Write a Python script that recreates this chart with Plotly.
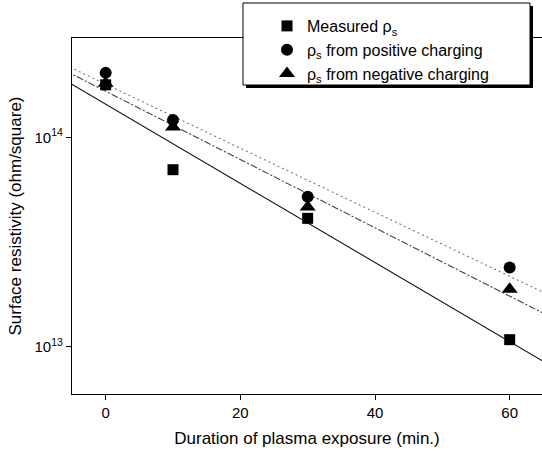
import numpy as np
import plotly.graph_objects as go

# Data
duration = [0, 10, 30, 60]
measured = [1.78e14, 7.0e13, 4.1e13, 1.08e13]
positive = [2.03e14, 1.21e14, 5.2e13, 2.39e13]
negative = [1.81e14, 1.12e14, 4.65e13, 1.88e13]

x_range = [-5, 64.8]
y_tickvals = [1e13, 1e14]
y_ticktext = ["10<sup>13</sup>", "10<sup>14</sup>"]
x_tickvals = [0, 20, 40, 60]

FONT = "Liberation Sans, Arial, Helvetica, sans-serif"

def fit_line(x, y):
    slope, icpt = np.polyfit(np.array(x, float), np.log10(np.array(y, float)), 1)
    xs = np.array([-6.0, 66.0])
    return xs, 10 ** (icpt + slope * xs)

fig = go.Figure()

# fit lines
for ys, dash, color in [
    (measured, "solid", "#111111"),
    (negative, "7px,2px,2px,2px", "#444444"),
    (positive, "2px,3px", "#777777"),
]:
    fx, fy = fit_line(duration, ys)
    fig.add_trace(go.Scatter(x=fx, y=fy, mode="lines", showlegend=False,
                             line=dict(color=color, width=1.1, dash=dash),
                             hoverinfo="skip"))

fig.add_trace(go.Scatter(x=duration, y=measured, mode="markers",
                         name="Measured ρ<sub>s</sub>",
                         marker=dict(symbol="square", size=11, color="black")))
fig.add_trace(go.Scatter(x=duration, y=positive, mode="markers",
                         name="ρ<sub>s</sub> from positive charging",
                         marker=dict(symbol="circle", size=12, color="black")))
fig.add_trace(go.Scatter(x=duration, y=negative, mode="markers",
                         name="ρ<sub>s</sub> from negative charging",
                         marker=dict(symbol="triangle-up", size=14, color="black")))

L, R, T, B = 72, 0, 38, 58
W, H = 542, 452
pw, ph = W - L - R, H - T - B

def px(xp):
    return (xp - L) / pw

def py(yp):
    return (H - B - yp) / ph

shapes = [
    # legend shadow
    dict(type="rect", xref="paper", yref="paper", layer="above",
         x0=px(246), x1=px(533), y0=py(88), y1=py(6),
         fillcolor="black", line=dict(width=0)),
    # legend box
    dict(type="rect", xref="paper", yref="paper", layer="above",
         x0=px(243), x1=px(530), y0=py(85), y1=py(3),
         fillcolor="white", line=dict(color="black", width=1)),
]

fig.update_layout(
    width=W, height=H,
    margin=dict(l=L, r=R, t=T, b=B),
    paper_bgcolor="white", plot_bgcolor="white",
    font=dict(family=FONT, color="black", size=15),
    shapes=shapes,
    showlegend=True,
    legend=dict(x=px(267), y=py(9), xanchor="left", yanchor="top",
                bgcolor="rgba(0,0,0,0)", borderwidth=0,
                font=dict(size=16, family=FONT), tracegroupgap=0),
    xaxis=dict(range=x_range, tickvals=x_tickvals, ticks="outside", ticklen=5,
               tickcolor="black", showline=True, linecolor="black", linewidth=1.2,
               mirror=True, showgrid=False, zeroline=False,
               tickfont=dict(size=15),
               title=dict(text="Duration of plasma exposure (min.)", font=dict(size=17), standoff=12)),
    yaxis=dict(type="log", range=[12.774, 14.474], tickvals=y_tickvals, ticktext=y_ticktext,
               ticks="outside", ticklen=5, tickcolor="black", showline=True,
               linecolor="black", linewidth=1.2, showgrid=False, zeroline=False,
               tickfont=dict(size=15),
               title=dict(text="Surface resistivity (ohm/square)", font=dict(size=17), standoff=8)),
)

fig.write_html("out.html")
